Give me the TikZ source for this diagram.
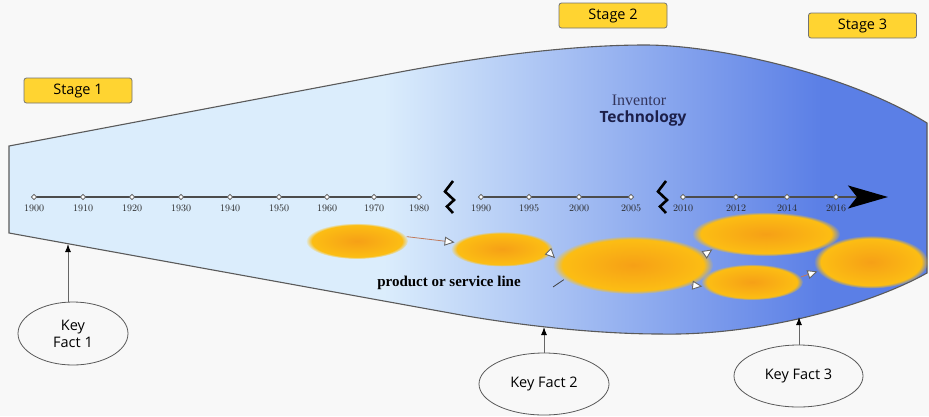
\documentclass[tikz,border=0pt]{standalone}
\usepackage{fontspec}
\newfontfamily\sansf{Open Sans}
\newfontfamily\serf{Liberation Serif}
\usetikzlibrary{shapes.geometric,arrows.meta,fadings}
\definecolor{bg}{HTML}{F8F8F8}
\definecolor{lightb}{HTML}{DBEDFC}
\definecolor{darkb}{HTML}{5B7FE6}
\definecolor{stagey}{HTML}{FFD431}
\definecolor{blobin}{HTML}{F6A016}
\definecolor{blobout}{HTML}{FDC113}
\definecolor{navy}{HTML}{1C1F4A}
\definecolor{outl}{HTML}{5A5A5A}
\definecolor{connc}{HTML}{C07A5C}
\pgfdeclareradialshading{softedgeshade}{\pgfpointorigin}{color(0bp)=(pgftransparent!0); color(22bp)=(pgftransparent!0); color(25bp)=(pgftransparent!100); color(50bp)=(pgftransparent!100)}
\pgfdeclarefading{softedge}{\pgfuseshading{softedgeshade}}
\begin{document}
\begin{tikzpicture}[x=1pt,y=-1pt,
  stagebox/.style={draw=black!55, fill=stagey, rounded corners=2.5pt, line width=0.8pt,
    minimum width=108pt, minimum height=25pt, inner sep=0pt, font=\sansf\fontsize{14.5}{16}\selectfont},
  blob/.style={ellipse, inner sep=0pt, inner color=blobin, outer color=blobout, path fading=softedge},
  conn/.style={draw=connc, line width=0.8pt, -{Triangle[length=10pt,width=9pt,color=black!60,fill=white,line width=0.9pt]}},
  keyfact/.style={ellipse, draw=black!65, fill=bg, line width=0.8pt, inner sep=0pt, align=center,
    font=\sansf\fontsize{14.5}{17}\selectfont},
  kfarrow/.style={draw=black!60, line width=1pt, -{Latex[black,length=8pt,width=6pt]}},
  tick/.style={diamond, draw=black!65, fill=white, line width=0.6pt, inner sep=0pt, minimum size=5.5pt},
  yr/.style={font=\fontsize{10}{11}\selectfont\boldmath, text=black!85, inner sep=0pt},
  tl/.style={draw=black!70, line width=1.8pt},
  brk/.style={draw=black, line width=2.6pt, line join=miter, line cap=butt}
]
\useasboundingbox (0,0) rectangle (929,416);
\fill[bg] (0,0) rectangle (929,416);
% main shape
\begin{scope}
\clip (9,146) -- (400,72) .. controls (480,57) and (570,45) .. (645,45)
  .. controls (720,45) and (850,75) .. (927,123) -- (927,273)
  .. controls (870,305) and (760,336) .. (660,334)
  .. controls (600,334) and (520,326) .. (450,313) -- (9,233) -- cycle;
\fill[lightb] (0,0) rectangle (385,416);
\shade[left color=lightb, right color=darkb] (384,0) rectangle (821,416);
\fill[darkb] (820,0) rectangle (929,416);
\end{scope}
\draw[outl, line width=1.1pt] (9,146) -- (400,72) .. controls (480,57) and (570,45) .. (645,45)
  .. controls (720,45) and (850,75) .. (927,123) -- (927,273)
  .. controls (870,305) and (760,336) .. (660,334)
  .. controls (600,334) and (520,326) .. (450,313) -- (9,233) -- cycle;

% stage boxes
\node[stagebox] (s1) at (78,90.5) {Stage 1};
\node[stagebox] (s2) at (613,15.5) {Stage 2};
\node[stagebox] (s3) at (862.5,25.5) {Stage 3};

% titles
\node[font=\serf\fontsize{16}{18}\selectfont, text=navy!90] (inv) at (639,100) {Inventor};
\node[font=\sansf\bfseries\fontsize{15.5}{18}\selectfont, text=navy] (tech) at (643,118) {Technology};

% timeline segment 1
\foreach \n/\x/\y in {a1/34/1900,a2/83/1910,a3/132/1920,a4/181/1930,a5/230/1940,a6/279/1950,a7/327/1960,a8/374/1970,a9/419/1980}{
  \coordinate (\n) at (\x,197);
  \node[yr] (\n l) at (\x,208.5) {\oldstylenums{\y}};
}
\draw[tl] (a1) -- (a9);
\foreach \n in {a1,a2,a3,a4,a5,a6,a7,a8,a9}{\node[tick] (\n t) at (\n) {};}
% segment 2
\foreach \n/\x/\y in {b1/481/1990,b2/529/1995,b3/579/2000,b4/631/2005}{
  \coordinate (\n) at (\x,197);
  \node[yr] (\n l) at (\x,208.5) {\oldstylenums{\y}};
}
\draw[tl] (b1) -- (b4);
\foreach \n in {b1,b2,b3,b4}{\node[tick] (\n t) at (\n) {};}
% segment 3
\foreach \n/\x/\y in {c1/683/2010,c2/736/2012,c3/787/2014,c4/836/2016}{
  \coordinate (\n) at (\x,197);
  \node[yr] (\n l) at (\x,208.5) {\oldstylenums{\y}};
}
\coordinate (tip) at (888,197);
\draw[tl, -{Stealth[black,length=40pt,width=23pt,inset=9pt]}] (c1) -- (tip);
\foreach \n in {c1,c2,c3,c4}{\node[tick] (\n t) at (\n) {};}
% breaks
\draw[brk] (453,181) -- (445,191.5) -- (454,200) -- (447,206.5) -- (453,213);
\draw[brk] (666,181) -- (658,191.5) -- (667,200) -- (660,206.5) -- (666,213);

% blobs
\node[blob, minimum width=102pt, minimum height=36pt] (e1) at (357,241) {};
\node[blob, minimum width=102pt, minimum height=35pt] (e2) at (502,249) {};
\node[blob, minimum width=160pt, minimum height=58pt] (e3) at (633,265) {};
\node[blob, minimum width=148pt, minimum height=44pt] (e4) at (766,234) {};
\node[blob, minimum width=102pt, minimum height=36pt] (e5) at (752,282) {};
\node[blob, minimum width=114pt, minimum height=53pt] (e6) at (871,262) {};

\draw[conn] (e1.5) -- (e2.172);
\draw[conn] (e2.-6) -- (e3.175);
\draw[conn] (e3.9) -- (e4.196);
\draw[conn] (e3.-19) -- (e5.185);
\draw[conn] (e5.6) -- (e6.190);

\node[font=\serf\bfseries\fontsize{15}{17}\selectfont] (pl) at (449,283) {product or service line};
\coordinate (plA) at (553,287);
\draw[black!75, line width=0.8pt] (plA) -- (e3.192);

% key facts
\node[keyfact, minimum width=110pt, minimum height=63pt] (kf1) at (73,333.5) {Key\\Fact 1};
\node[keyfact, minimum width=130pt, minimum height=62pt] (kf2) at (544,384) {Key Fact 2};
\node[keyfact, minimum width=129pt, minimum height=62pt] (kf3) at (798.5,376) {Key Fact 3};
\coordinate (kf1t) at (68,244);
\coordinate (kf2t) at (544,327);
\coordinate (kf3t) at (799,317);
\draw[kfarrow] (kf1.north -| kf1t) -- (kf1t);
\draw[kfarrow] (kf2.north) -- (kf2t);
\draw[kfarrow] (kf3.north -| kf3t) -- (kf3t);
\end{tikzpicture}
\end{document}
